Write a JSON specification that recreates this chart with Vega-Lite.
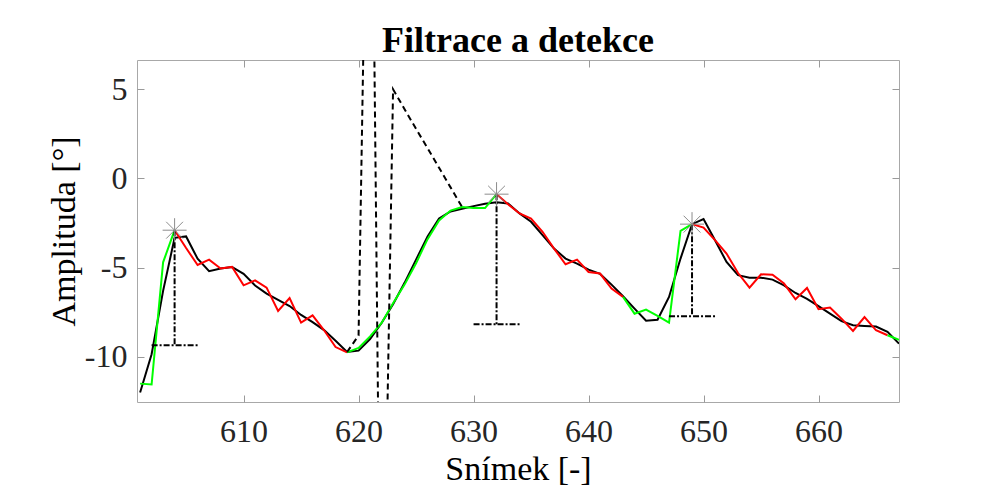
{
  "$schema": "https://vega.github.io/schema/vega-lite/v6.json",
  "width": 762,
  "height": 342,
  "autosize": {"type": "none"},
  "padding": {"left": 137, "top": 60, "right": 85, "bottom": 84},
  "background": "white",
  "config": {
    "view": {"stroke": "#a8a8a8", "strokeWidth": 1},
    "axis": {
      "domain": false,
      "grid": false,
      "tickSize": -7,
      "tickColor": "#9a9a9a",
      "labelFont": "Liberation Serif",
      "labelFontSize": 32,
      "labelColor": "#262626",
      "titleFont": "Liberation Serif",
      "titleFontSize": 34,
      "titleFontWeight": "normal",
      "titleColor": "#000000"
    }
  },
  "title": {
    "text": "Filtrace a detekce",
    "font": "Liberation Serif",
    "fontSize": 36,
    "fontWeight": "bold",
    "color": "#000000",
    "anchor": "middle",
    "baseline": "alphabetic",
    "offset": -28
  },
  "datasets": {
    "filt": [
      {"x": 601, "y": -12.0}, {"x": 602, "y": -9.85}, {"x": 603, "y": -6.3}, {"x": 604, "y": -3.33},
      {"x": 605, "y": -3.25}, {"x": 606, "y": -4.5}, {"x": 607, "y": -5.2}, {"x": 608, "y": -5.05},
      {"x": 609, "y": -4.97}, {"x": 610, "y": -5.35}, {"x": 611, "y": -6.0}, {"x": 612, "y": -6.45},
      {"x": 613, "y": -6.8}, {"x": 614, "y": -7.15}, {"x": 615, "y": -7.65}, {"x": 616, "y": -8.05},
      {"x": 617, "y": -8.5}, {"x": 618, "y": -9.1}, {"x": 619, "y": -9.73}, {"x": 620, "y": -9.65},
      {"x": 621, "y": -9.0}, {"x": 622, "y": -8.1}, {"x": 623, "y": -7.05}, {"x": 624, "y": -5.85},
      {"x": 625, "y": -4.55}, {"x": 626, "y": -3.25}, {"x": 627, "y": -2.25}, {"x": 628, "y": -1.85},
      {"x": 629, "y": -1.7}, {"x": 630, "y": -1.55}, {"x": 631, "y": -1.42}, {"x": 632, "y": -1.33},
      {"x": 633, "y": -1.4}, {"x": 634, "y": -1.96}, {"x": 635, "y": -2.43}, {"x": 636, "y": -3.18},
      {"x": 637, "y": -3.93}, {"x": 638, "y": -4.49}, {"x": 639, "y": -4.77}, {"x": 640, "y": -5.11},
      {"x": 641, "y": -5.35}, {"x": 642, "y": -5.95}, {"x": 643, "y": -6.6}, {"x": 644, "y": -7.3},
      {"x": 645, "y": -7.97}, {"x": 646, "y": -7.92}, {"x": 647, "y": -6.64}, {"x": 648, "y": -4.49},
      {"x": 649, "y": -2.56}, {"x": 650, "y": -2.28}, {"x": 651, "y": -3.46}, {"x": 652, "y": -4.68},
      {"x": 653, "y": -5.42}, {"x": 654, "y": -5.56}, {"x": 655, "y": -5.56}, {"x": 656, "y": -5.67},
      {"x": 657, "y": -5.99}, {"x": 658, "y": -6.42}, {"x": 659, "y": -6.75}, {"x": 660, "y": -7.16},
      {"x": 661, "y": -7.58}, {"x": 662, "y": -8.0}, {"x": 663, "y": -8.23}, {"x": 664, "y": -8.27},
      {"x": 665, "y": -8.3}, {"x": 666, "y": -8.6}, {"x": 667, "y": -9.26}
    ],
    "raw": [
      {"x": 601, "y": -11.5, "seg": "g1", "col": "green"},
      {"x": 602, "y": -11.55, "seg": "g1", "col": "green"},
      {"x": 603, "y": -4.7, "seg": "g1", "col": "green"},
      {"x": 604, "y": -2.9, "seg": "g1", "col": "green"},
      {"x": 604, "y": -2.9, "seg": "r1", "col": "red"},
      {"x": 605, "y": -3.9, "seg": "r1", "col": "red"},
      {"x": 606, "y": -4.85, "seg": "r1", "col": "red"},
      {"x": 607, "y": -4.55, "seg": "r1", "col": "red"},
      {"x": 608, "y": -5.05, "seg": "r1", "col": "red"},
      {"x": 609, "y": -4.96, "seg": "r1", "col": "red"},
      {"x": 610, "y": -5.99, "seg": "r1", "col": "red"},
      {"x": 611, "y": -5.71, "seg": "r1", "col": "red"},
      {"x": 612, "y": -6.12, "seg": "r1", "col": "red"},
      {"x": 613, "y": -7.43, "seg": "r1", "col": "red"},
      {"x": 614, "y": -6.7, "seg": "r1", "col": "red"},
      {"x": 615, "y": -8.08, "seg": "r1", "col": "red"},
      {"x": 616, "y": -7.67, "seg": "r1", "col": "red"},
      {"x": 617, "y": -8.51, "seg": "r1", "col": "red"},
      {"x": 618, "y": -9.45, "seg": "r1", "col": "red"},
      {"x": 619, "y": -9.75, "seg": "r1", "col": "red"},
      {"x": 619, "y": -9.75, "seg": "g2", "col": "green"},
      {"x": 620, "y": -9.5, "seg": "g2", "col": "green"},
      {"x": 621, "y": -8.85, "seg": "g2", "col": "green"},
      {"x": 622, "y": -8.1, "seg": "g2", "col": "green"},
      {"x": 623, "y": -7.0, "seg": "g2", "col": "green"},
      {"x": 624, "y": -5.95, "seg": "g2", "col": "green"},
      {"x": 625, "y": -4.75, "seg": "g2", "col": "green"},
      {"x": 626, "y": -3.4, "seg": "g2", "col": "green"},
      {"x": 627, "y": -2.35, "seg": "g2", "col": "green"},
      {"x": 628, "y": -1.8, "seg": "g2", "col": "green"},
      {"x": 629, "y": -1.6, "seg": "g2", "col": "green"},
      {"x": 630, "y": -1.66, "seg": "g2", "col": "green"},
      {"x": 631, "y": -1.66, "seg": "g2", "col": "green"},
      {"x": 632, "y": -0.88, "seg": "g2", "col": "green"},
      {"x": 632, "y": -0.88, "seg": "r2", "col": "red"},
      {"x": 633, "y": -1.45, "seg": "r2", "col": "red"},
      {"x": 634, "y": -1.96, "seg": "r2", "col": "red"},
      {"x": 635, "y": -2.25, "seg": "r2", "col": "red"},
      {"x": 636, "y": -2.99, "seg": "r2", "col": "red"},
      {"x": 637, "y": -3.93, "seg": "r2", "col": "red"},
      {"x": 638, "y": -4.81, "seg": "r2", "col": "red"},
      {"x": 639, "y": -4.55, "seg": "r2", "col": "red"},
      {"x": 640, "y": -5.24, "seg": "r2", "col": "red"},
      {"x": 641, "y": -5.33, "seg": "r2", "col": "red"},
      {"x": 642, "y": -6.17, "seg": "r2", "col": "red"},
      {"x": 643, "y": -6.64, "seg": "r2", "col": "red"},
      {"x": 643, "y": -6.64, "seg": "g3", "col": "green"},
      {"x": 644, "y": -7.58, "seg": "g3", "col": "green"},
      {"x": 645, "y": -7.35, "seg": "g3", "col": "green"},
      {"x": 646, "y": -7.7, "seg": "g3", "col": "green"},
      {"x": 647, "y": -8.08, "seg": "g3", "col": "green"},
      {"x": 648, "y": -2.94, "seg": "g3", "col": "green"},
      {"x": 649, "y": -2.56, "seg": "g3", "col": "green"},
      {"x": 649, "y": -2.56, "seg": "r3", "col": "red"},
      {"x": 650, "y": -2.75, "seg": "r3", "col": "red"},
      {"x": 651, "y": -3.46, "seg": "r3", "col": "red"},
      {"x": 652, "y": -4.21, "seg": "r3", "col": "red"},
      {"x": 653, "y": -5.3, "seg": "r3", "col": "red"},
      {"x": 654, "y": -6.12, "seg": "r3", "col": "red"},
      {"x": 655, "y": -5.37, "seg": "r3", "col": "red"},
      {"x": 656, "y": -5.4, "seg": "r3", "col": "red"},
      {"x": 657, "y": -5.89, "seg": "r3", "col": "red"},
      {"x": 658, "y": -6.77, "seg": "r3", "col": "red"},
      {"x": 659, "y": -6.14, "seg": "r3", "col": "red"},
      {"x": 660, "y": -7.33, "seg": "r3", "col": "red"},
      {"x": 661, "y": -7.24, "seg": "r3", "col": "red"},
      {"x": 662, "y": -7.86, "seg": "r3", "col": "red"},
      {"x": 663, "y": -8.55, "seg": "r3", "col": "red"},
      {"x": 664, "y": -7.77, "seg": "r3", "col": "red"},
      {"x": 665, "y": -8.51, "seg": "r3", "col": "red"},
      {"x": 666, "y": -8.79, "seg": "r3", "col": "red"},
      {"x": 666, "y": -8.79, "seg": "g4", "col": "green"},
      {"x": 667, "y": -9.04, "seg": "g4", "col": "green"}
    ],
    "dash": [
      {"x": 619, "y": -9.73}, {"x": 620, "y": -8.8}, {"x": 621, "y": 29.7}, {"x": 622, "y": -31.5},
      {"x": 623, "y": 5.0}, {"x": 624, "y": 3.88}, {"x": 625, "y": 2.78}, {"x": 626, "y": 1.7},
      {"x": 627, "y": 0.6}, {"x": 628, "y": -0.5}, {"x": 629, "y": -1.6}
    ],
    "peaks": [
      {"x": 604, "y": -2.9, "base": -9.35, "x0": 602, "x1": 606},
      {"x": 632, "y": -0.88, "base": -8.17, "x0": 630, "x1": 634},
      {"x": 649, "y": -2.56, "base": -7.73, "x0": 647, "x1": 651}
    ]
  },
  "resolve": {"axis": {"x": "independent", "y": "independent"}},
  "layer": [
    {
      "data": {"name": "filt"},
      "mark": {"type": "line", "color": "#000000", "strokeWidth": 2, "clip": true},
      "encoding": {
        "x": {"field": "x", "type": "quantitative", "scale": {"domain": [600.73, 667], "nice": false, "zero": false},
          "axis": {"orient": "bottom", "values": [610, 620, 630, 640, 650, 660], "labelPadding": 21,
            "title": "Snímek [-]", "titleX": 381, "titleY": 77, "titleBaseline": "alphabetic", "titleAlign": "center", "titleAnchor": null}},
        "y": {"field": "y", "type": "quantitative", "scale": {"domain": [-12.53, 6.64], "nice": false, "zero": false},
          "axis": {"orient": "left", "values": [-10, -5, 0, 5], "labelPadding": 17,
            "labelExpr": "datum.value < 0 ? '-' + abs(datum.value) : '' + datum.value",
            "title": "Amplituda [°]", "titleX": -63, "titleY": 171, "titleAngle": -90, "titleBaseline": "alphabetic", "titleAlign": "center", "titleAnchor": null}},
        "order": {"field": "x", "type": "quantitative"}
      }
    },
    {
      "data": {"name": "raw"},
      "mark": {"type": "line", "strokeWidth": 2, "clip": true},
      "encoding": {
        "x": {"field": "x", "type": "quantitative", "scale": {"domain": [600.73, 667], "nice": false, "zero": false}, "axis": null},
        "y": {"field": "y", "type": "quantitative", "scale": {"domain": [-12.53, 6.64], "nice": false, "zero": false}, "axis": null},
        "color": {"field": "col", "type": "nominal", "scale": {"domain": ["red", "green"], "range": ["#ff0000", "#00ff00"]}, "legend": null},
        "detail": {"field": "seg"},
        "order": {"field": "x", "type": "quantitative"}
      }
    },
    {
      "data": {"name": "dash"},
      "mark": {"type": "line", "color": "#000000", "strokeWidth": 2, "strokeDash": [6, 4], "clip": true},
      "encoding": {
        "x": {"field": "x", "type": "quantitative", "scale": {"domain": [600.73, 667], "nice": false, "zero": false}, "axis": null},
        "y": {"field": "y", "type": "quantitative", "scale": {"domain": [-12.53, 6.64], "nice": false, "zero": false}, "axis": null},
        "order": {"field": "x", "type": "quantitative"}
      }
    },
    {
      "data": {"name": "peaks"},
      "mark": {"type": "rule", "color": "#000000", "strokeWidth": 2, "strokeDash": [6, 2, 2, 2]},
      "encoding": {
        "x": {"field": "x", "type": "quantitative", "scale": {"domain": [600.73, 667], "nice": false, "zero": false}, "axis": null},
        "y": {"field": "y", "type": "quantitative", "scale": {"domain": [-12.53, 6.64], "nice": false, "zero": false}, "axis": null},
        "y2": {"field": "base"}
      }
    },
    {
      "data": {"name": "peaks"},
      "mark": {"type": "rule", "color": "#000000", "strokeWidth": 2, "strokeDash": [6, 2, 2, 2]},
      "encoding": {
        "x": {"field": "x0", "type": "quantitative", "scale": {"domain": [600.73, 667], "nice": false, "zero": false}, "axis": null},
        "x2": {"field": "x1"},
        "y": {"field": "base", "type": "quantitative", "scale": {"domain": [-12.53, 6.64], "nice": false, "zero": false}, "axis": null}
      }
    },
    {
      "data": {"name": "peaks"},
      "mark": {"type": "point", "shape": "M-1,0H1M0,-1V1M-0.7,-0.7L0.7,0.7M-0.7,0.7L0.7,-0.7", "filled": false, "stroke": "#8c8c8c", "strokeWidth": 1, "size": 576, "opacity": 1},
      "encoding": {
        "x": {"field": "x", "type": "quantitative", "scale": {"domain": [600.73, 667], "nice": false, "zero": false},
          "axis": {"orient": "top", "values": [610, 620, 630, 640, 650, 660], "labels": false, "title": null}},
        "y": {"field": "y", "type": "quantitative", "scale": {"domain": [-12.53, 6.64], "nice": false, "zero": false},
          "axis": {"orient": "right", "values": [-10, -5, 0, 5], "labels": false, "title": null}}
      }
    }
  ]
}
